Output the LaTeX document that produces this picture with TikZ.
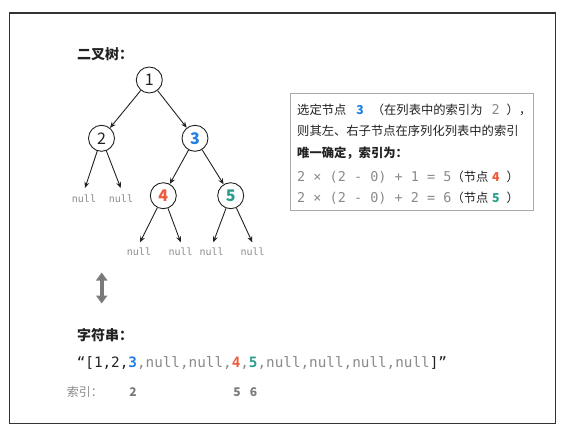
\documentclass[tikz,border=0pt]{standalone}
\usepackage{fontspec}
\setmainfont{Noto Sans CJK SC}
\newfontfamily\monof{DejaVu Sans Mono}
\usetikzlibrary{arrows.meta}
\definecolor{cblue}{HTML}{1F7FE5}
\definecolor{cred}{HTML}{EE5B3B}
\definecolor{cteal}{HTML}{2A9D8C}
\definecolor{cgray}{HTML}{8A8A8A}
\definecolor{cdark}{HTML}{222222}
\definecolor{cframe}{HTML}{333333}
\definecolor{cboxline}{HTML}{AAAAAA}
\definecolor{carrow}{HTML}{7A7A7A}
\newcommand{\mm}[1]{{\monof\fontsize{13.5}{13.5}\selectfont\color{cgray}#1}}
\begin{document}
\begin{tikzpicture}[x=1pt,y=-1pt,
  tnode/.style={circle,draw=cdark,line width=0.9pt,minimum size=26pt,inner sep=0pt,
    font=\fontsize{16}{16}\selectfont,text=cdark,fill=white},
  tbold/.style={tnode,font=\fontsize{16}{16}\selectfont\bfseries},
  edge/.style={draw=cdark,line width=0.9pt,-{Stealth[length=6pt,width=5pt]}},
  nulllab/.style={font=\monof\fontsize{10}{10}\selectfont,text=cgray,anchor=base,inner sep=0pt},
  title/.style={font=\fontsize{14}{14}\selectfont\bfseries,text=cdark,anchor=base west,inner sep=0pt},
  boxline/.style={font=\fontsize{12.3}{12.3}\selectfont,text=cdark,anchor=base west,inner sep=0pt},
  idx/.style={font=\fontsize{12}{12}\selectfont\bfseries,text=carrow,anchor=base,inner sep=0pt},
  dblarrow/.style={draw=carrow,line width=4.2pt,{Triangle[width=11pt,length=8pt]}-{Triangle[width=11pt,length=8pt]}}
]
\useasboundingbox (0,0) rectangle (566,431);
\draw[line width=1.2pt,draw=cframe] (9.5,13) rectangle (555.5,423.5);

\node[title] (t1) at (77,59.5) {二叉树：};

% tree
\node[tnode] (n1) at (149.3,80) {1};
\node[tnode] (n2) at (101.5,138.3) {2};
\node[tbold,text=cblue] (n3) at (195,138.3) {3};
\node[tbold,text=cred] (n4) at (163.3,195.7) {4};
\node[tbold,text=cteal] (n5) at (230.7,195.7) {5};

\draw[edge] (n1) -- (n2);
\draw[edge] (n1) -- (n3);
\draw[edge] (n3) -- (n4);
\draw[edge] (n3) -- (n5);

\coordinate (c2l) at (85,188);
\coordinate (c2r) at (120.7,188);
\coordinate (c4l) at (140,242.3);
\coordinate (c4r) at (180.7,242.3);
\coordinate (c5l) at (213.3,242.3);
\coordinate (c5r) at (252.3,242.3);
\draw[edge] (n2) -- (c2l);
\draw[edge] (n2) -- (c2r);
\draw[edge] (n4) -- (c4l);
\draw[edge] (n4) -- (c4r);
\draw[edge] (n5) -- (c5l);
\draw[edge] (n5) -- (c5r);

\node[nulllab] (l2l) at (84,202.6) {null};
\node[nulllab] (l2r) at (121,202.6) {null};
\node[nulllab] (l4l) at (139,255.3) {null};
\node[nulllab] (l4r) at (180.7,255.3) {null};
\node[nulllab] (l5l) at (211.7,255.3) {null};
\node[nulllab] (l5r) at (252.7,255.3) {null};

% info box
\draw[draw=cboxline,line width=0.8pt] (290.7,93.3) rectangle (533,210.7);
\node[boxline] (b1) at (297,114) {选定节点\hspace{10pt}{\bfseries\color{cblue}3}\hspace{8pt}（在列表中的索引为\hspace{9pt}\mm{2}\hspace{7pt}），};
\node[boxline] (b2) at (297,135.3) {则其左、右子节点在序列化列表中的索引};
\node[boxline,font=\fontsize{12.3}{12.3}\selectfont\bfseries] (b3) at (297,157.3) {唯一确定，索引为：};
\node[boxline] (b4) at (297,181.3) {\mm{2 × (2 - 0) + 1 = 5}（节点\hspace{3.5pt}{\bfseries\color{cred}4}\hspace{7pt}）};
\node[boxline] (b5) at (297,202) {\mm{2 × (2 - 0) + 2 = 6}（节点\hspace{3.5pt}{\bfseries\color{cteal}5}\hspace{7pt}）};

% double arrow
\coordinate (au) at (101.7,272.5);
\coordinate (ad) at (101.7,303.5);
\draw[dblarrow] (au) -- (ad);

\node[title] (t2) at (77,340.5) {字符串：};

\node[anchor=base west,inner sep=0pt,font=\monof\fontsize{14.3}{14.3}\selectfont,text=cdark] (str) at (76.6,367.5)
  {“[1,2,{\color{cblue}\bfseries 3}{\color{cgray},null,null,}{\color{cred}\bfseries 4}{\color{cgray},}{\color{cteal}\bfseries 5}{\color{cgray},null,null,null,null}]”};

\node[anchor=base west,inner sep=0pt,font=\fontsize{12}{12}\selectfont,text=cgray] (ilab) at (66.7,396) {索引：};
\node[idx] (i2) at (133,396) {2};
\node[idx] (i5) at (237,396) {5};
\node[idx] (i6) at (253.5,396) {6};
\end{tikzpicture}
\end{document}
